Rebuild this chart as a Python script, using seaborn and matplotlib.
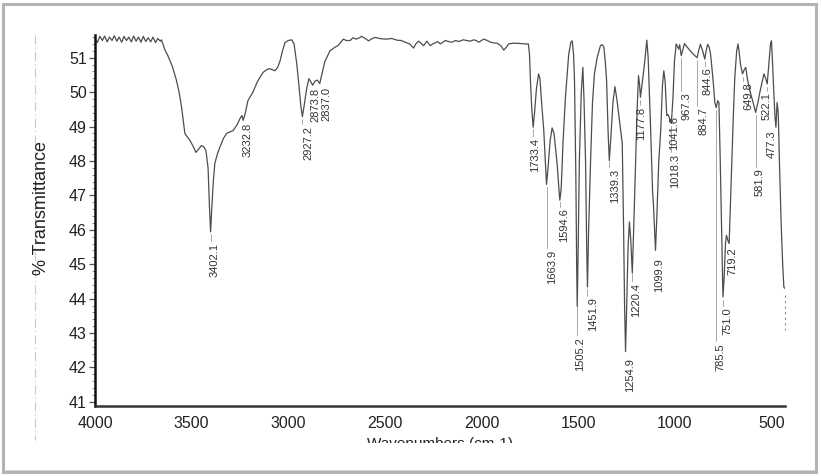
import numpy as np
import pandas as pd
import matplotlib
matplotlib.use("Agg")
import matplotlib.pyplot as plt
import seaborn as sns
from matplotlib.ticker import MultipleLocator
from matplotlib.patches import Rectangle
from matplotlib.lines import Line2D

# ---------------- data ----------------
wavenumber = [
    4000, 3988, 3975, 3962, 3950, 3937, 3925, 3912, 3900, 3887, 3875, 3862, 3850, 3837,
    3825, 3812, 3800, 3787, 3775, 3762, 3750, 3737, 3725, 3712, 3700, 3687, 3675, 3662,
    3656, 3640, 3623, 3600, 3578, 3565, 3552, 3535, 3520, 3509, 3490, 3478, 3463, 3449,
    3436, 3426, 3415, 3408, 3402, 3396, 3388, 3380, 3367, 3354, 3336, 3319, 3300, 3286,
    3265, 3250, 3240, 3233, 3222, 3209, 3183, 3160, 3131, 3110, 3095, 3082, 3069, 3055,
    3043, 3030, 3017, 3000, 2982, 2970, 2956, 2945, 2935, 2927, 2918, 2905, 2893, 2883,
    2874, 2862, 2850, 2837, 2825, 2810, 2784, 2760, 2743, 2715, 2700, 2680, 2665, 2649,
    2635, 2620, 2600, 2585, 2568, 2551, 2520, 2490, 2465, 2438, 2415, 2395, 2372, 2352,
    2340, 2326, 2313, 2300, 2283, 2266, 2253, 2240, 2227, 2214, 2200, 2188, 2170, 2153,
    2135, 2118, 2095, 2075, 2058, 2041, 2028, 2015, 2000, 1989, 1970, 1954, 1935, 1919,
    1900, 1885, 1872, 1860, 1840, 1816, 1795, 1773, 1758, 1752, 1747, 1740, 1733, 1726,
    1716, 1705, 1698, 1688, 1678, 1670, 1664, 1656, 1645, 1635, 1625, 1609, 1600, 1595,
    1588, 1578, 1566, 1549, 1538, 1531, 1524, 1519, 1512, 1508, 1505, 1500, 1494, 1484,
    1476, 1470, 1462, 1456, 1452, 1446, 1436, 1426, 1416, 1402, 1385, 1375, 1367, 1360,
    1353, 1345, 1339, 1332, 1320, 1310, 1300, 1285, 1272, 1265, 1260, 1255, 1249, 1242,
    1235, 1228, 1220, 1213, 1203, 1195, 1188, 1182, 1178, 1170, 1157, 1145, 1138, 1125,
    1115, 1111, 1105, 1100, 1093, 1083, 1073, 1064, 1057, 1050, 1042, 1035, 1025, 1018,
    1010, 1002, 993, 980, 975, 967, 960, 950, 935, 920, 900, 885, 877, 868, 856, 845,
    838, 830, 822, 815, 808, 800, 793, 786, 778, 772, 765, 758, 751, 745, 738, 733,
    726, 719, 712, 705, 698, 690, 680, 673, 668, 660, 650, 641, 633, 625, 610, 595,
    582, 570, 560, 548, 539, 530, 522, 512, 505, 500, 494, 488, 482, 477, 471, 465,
    458, 450, 442, 436, 432,
]
transmittance = [
    51.55, 51.44, 51.62, 51.50, 51.63, 51.46, 51.60, 51.50, 51.64, 51.48, 51.60, 51.45, 51.62, 51.50,
    51.60, 51.46, 51.63, 51.48, 51.60, 51.45, 51.62, 51.47, 51.58, 51.46, 51.60, 51.44, 51.56, 51.48,
    51.52, 51.25, 51.06, 50.75, 50.33, 50.00, 49.56, 48.80, 48.68, 48.60, 48.40, 48.25, 48.35, 48.45,
    48.40, 48.30, 47.80, 46.70, 45.94, 46.60, 47.40, 47.93, 48.20, 48.40, 48.65, 48.80, 48.85, 48.88,
    49.05, 49.23, 49.32, 49.18, 49.40, 49.75, 50.00, 50.30, 50.57, 50.66, 50.68, 50.65, 50.62, 50.72,
    50.90, 51.20, 51.44, 51.50, 51.52, 51.40, 50.82, 50.20, 49.60, 49.29, 49.60, 50.10, 50.39, 50.30,
    50.20, 50.32, 50.35, 50.25, 50.55, 50.90, 51.20, 51.30, 51.35, 51.54, 51.50, 51.50, 51.58, 51.54,
    51.57, 51.62, 51.55, 51.49, 51.55, 51.59, 51.55, 51.54, 51.56, 51.51, 51.50, 51.45, 51.40, 51.28,
    51.40, 51.48, 51.42, 51.35, 51.48, 51.35, 51.40, 51.43, 51.47, 51.40, 51.45, 51.50, 51.47, 51.45,
    51.50, 51.47, 51.52, 51.50, 51.48, 51.52, 51.50, 51.45, 51.50, 51.54, 51.50, 51.45, 51.43, 51.42,
    51.35, 51.22, 51.30, 51.40, 51.42, 51.42, 51.41, 51.40, 51.40, 51.10, 50.33, 49.50, 48.98, 49.40,
    50.10, 50.53, 50.40, 49.60, 48.88, 48.00, 47.32, 47.80, 48.60, 48.96, 48.80, 47.92, 47.20, 46.86,
    47.20, 48.60, 49.85, 51.10, 51.45, 51.49, 51.10, 50.33, 47.50, 45.00, 43.78, 45.50, 48.00, 50.00,
    50.72, 49.80, 48.00, 45.50, 44.34, 46.00, 48.00, 49.70, 50.53, 51.00, 51.35, 51.38, 51.30, 50.90,
    50.33, 48.80, 48.01, 48.60, 49.70, 50.16, 49.80, 49.09, 48.50, 46.00, 43.80, 42.46, 43.80, 45.50,
    46.23, 45.70, 44.74, 46.00, 48.00, 49.50, 50.48, 50.20, 49.85, 50.20, 50.82, 51.51, 51.00, 48.88,
    47.10, 46.77, 46.00, 45.40, 46.40, 48.00, 48.88, 50.20, 50.62, 50.30, 49.32, 49.35, 49.20, 49.10,
    49.80, 50.90, 51.40, 51.25, 51.38, 51.06, 51.20, 51.41, 51.30, 51.20, 51.08, 51.00, 51.20, 51.39, 51.20, 50.96,
    51.20, 51.39, 51.30, 51.10, 50.70, 50.20, 49.70, 49.55, 49.75, 49.70, 48.00, 46.00, 44.05, 44.60, 45.60, 45.84,
    45.70, 45.60, 46.80, 48.00, 49.20, 50.40, 51.20, 51.40, 51.20, 50.80, 50.53, 50.65, 50.72, 50.40, 50.00, 49.70,
    49.41, 49.70, 50.00, 50.30, 50.53, 50.40, 50.24, 50.90, 51.40, 51.49, 50.80, 50.00, 49.30, 48.98, 49.70, 49.40,
    47.80, 46.20, 45.00, 44.34, 44.30,
]

peak_labels = ["3402.1", "3232.8", "2927.2", "2873.8", "2837.0", "1733.4", "1663.9",
               "1594.6", "1505.2", "1451.9", "1339.3", "1254.9", "1220.4", "1177.8",
               "1099.9", "1041.6", "1018.3", "967.3", "884.7", "844.6", "785.5",
               "751.0", "719.2", "649.8", "581.9", "522.1", "477.3"]
peak_wavenumbers = [float(s) for s in peak_labels]

x_ticks = [4000, 3500, 3000, 2500, 2000, 1500, 1000, 500]
y_ticks = [41, 42, 43, 44, 45, 46, 47, 48, 49, 50, 51]

# ---------------- layout of the peak annotations ----------------
label_x = [3380, 3209, 2898, 2860, 2802, 1723, 1635, 1573, 1490, 1423, 1309, 1234, 1198,
           1172, 1079, 1003, 998, 941, 853, 832, 765, 729, 703, 620, 563, 527, 496]
label_top = [45.61, 49.12, 49.03, 50.13, 50.16, 48.68, 45.41, 46.62, 42.88, 44.04, 47.78,
             42.28, 44.45, 49.58, 45.17, 49.32, 48.22, 49.99, 49.55, 50.71, 42.71, 43.75,
             45.49, 50.28, 47.78, 49.99, 48.88]

# ---------------- figure ----------------
sns.set_theme(style="white")
plt.rcParams["font.family"] = ["Liberation Sans", "DejaVu Sans"]
narrow = ["Liberation Sans Narrow", "Liberation Sans", "DejaVu Sans"]

W, H = 821, 476
fig = plt.figure(figsize=(W / 100, H / 100), dpi=100)
fig.patch.set_facecolor("white")
ax = fig.add_axes([95 / W, 1 - 406 / H, 690 / W, 371 / H])

df = pd.DataFrame({"wavenumber": wavenumber, "transmittance": transmittance})
sns.lineplot(data=df, x="wavenumber", y="transmittance", sort=False, estimator=None,
             color="#4d4d4d", lw=0.9, ax=ax)

ax.set_xlim(4000, 430)
ax.set_ylim(40.88, 51.66)
ax.set_xticks(x_ticks)
ax.set_yticks(y_ticks)
ax.yaxis.set_minor_locator(MultipleLocator(0.2))
ax.tick_params(axis="y", which="major", direction="out", length=4, width=0.9,
               color="#555555", pad=2, left=True)
ax.tick_params(axis="y", which="minor", direction="out", length=2, width=0.6,
               color="#777777", left=True)
ax.tick_params(axis="x", which="both", length=0, pad=7)
for lab in ax.get_xticklabels() + ax.get_yticklabels():
    lab.set_fontfamily(narrow)
    lab.set_fontsize(11.5)
    lab.set_color("#222222")

for side in ("top", "right"):
    ax.spines[side].set_visible(False)
ax.spines["left"].set_color("#111111")
ax.spines["left"].set_linewidth(1.8)
ax.spines["bottom"].set_color("#333333")
ax.spines["bottom"].set_linewidth(1.8)
ax.set_xlabel("")
ax.set_ylabel("")
ax.grid(False)

# peak annotations
wn_arr = np.array(wavenumber, dtype=float)[::-1]
t_arr = np.array(transmittance, dtype=float)[::-1]
for txt, pk, lx, ly in zip(peak_labels, peak_wavenumbers, label_x, label_top):
    tmin = np.interp(pk, wn_arr, t_arr)
    if tmin - ly > 0.25:
        ax.plot([pk, pk], [tmin - 0.08, ly + 0.05], color="#9a9a9a", lw=0.6, zorder=1)
    ax.text(lx, ly, txt, rotation=90, ha="center", va="top", fontsize=8,
            color="#333333")
# truncated leader at the right edge
ax.plot([432, 432], [44.1, 43.1], color="#888888", lw=0.8, ls=(0, (2, 3)), clip_on=False)

# axis titles (x title is cut off by the scan edge)
fig.text(42 / W, 1 - 208 / H, "% Transmittance", rotation=90, ha="center", va="center",
         fontsize=13, family=narrow, color="#222222")
fig.text(440 / W, 1 - 437 / H, "Wavenumbers (cm-1)", ha="center", va="top",
         fontsize=11, family=narrow, color="#222222")
fig.add_artist(Rectangle((10 / W, 4 / H), 800 / W, (476 - 443 - 4) / H,
                         transform=fig.transFigure, facecolor="white",
                         edgecolor="none", zorder=5))

# scan artefacts: faint dash-dot guide and page border
fig.add_artist(Line2D([35 / W, 35 / W], [1 - 35 / H, 1 - 440 / H],
                      transform=fig.transFigure, color="#c8c8c8", lw=0.8,
                      ls=(0, (8, 3, 1, 3))))
fig.add_artist(Rectangle((3 / W, 4 / H), 813 / W, 468 / H, transform=fig.transFigure,
                         fill=False, edgecolor="#b3b3b3", lw=2.2, zorder=6))
fig.add_artist(Rectangle((6 / W, 2 / H), 812 / W, 4 / H, transform=fig.transFigure,
                         facecolor="#d9d9d9", edgecolor="none", zorder=5))

fig.savefig("out.png", dpi=100, facecolor="white")
